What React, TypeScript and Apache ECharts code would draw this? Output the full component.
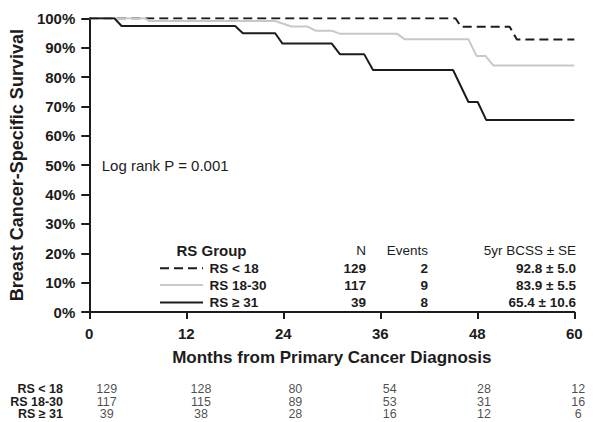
import React, { useEffect, useRef } from "react";
import * as echarts from "echarts";

const groups = ["RS < 18", "RS 18-30", "RS ≥ 31"];
const groupN = [129, 117, 39];
const groupEvents = [2, 9, 8];
const groupBcss = ["92.8 ± 5.0", "83.9 ± 5.5", "65.4 ± 10.6"];

const curveLow: [number, number][] = [
  [0, 100], [45.3, 100], [46.0, 97.1], [52.0, 97.1], [52.9, 92.8], [60, 92.8],
];
const curveMid: [number, number][] = [
  [0, 100], [6.9, 100], [7.4, 99.1], [23.0, 99.1], [25.0, 97.2], [27.0, 97.2],
  [28.0, 95.8], [30.0, 95.8], [31.0, 94.7], [38.1, 94.7], [39.0, 92.9],
  [46.9, 92.9], [47.9, 87.2], [49.0, 87.2], [50.0, 83.9], [60, 83.9],
];
const curveHigh: [number, number][] = [
  [0, 100], [3.1, 100], [4.0, 97.4], [18.05, 97.4], [19.0, 94.9], [23.0, 94.9],
  [23.9, 91.4], [30.0, 91.4], [31.0, 87.8], [34.0, 87.8], [35.1, 82.4],
  [45.0, 82.4], [46.9, 71.5], [48.05, 71.5], [49.1, 65.4], [60, 65.4],
];

const riskMonths = [0, 12, 24, 36, 48, 60];
const riskLow = [129, 128, 80, 54, 28, 12];
const riskMid = [117, 115, 89, 53, 31, 16];
const riskHigh = [39, 38, 28, 16, 12, 6];

const FONT = "'Liberation Sans', Arial, Helvetica, sans-serif";
const DARK = "#1c1c1c";
const GRAY = "#c8c8c8";

export default function App() {
  const ref = useRef<HTMLDivElement>(null);
  useEffect(() => {
    document.body.style.margin = "0";
    if (!ref.current) return;
    const chart = echarts.init(ref.current, null, { renderer: "svg" });

    const riskRows = [riskLow, riskMid, riskHigh];
    const riskData: any[] = [];
    riskRows.forEach((row, ri) => {
      row.forEach((v, i) => riskData.push([riskMonths[i], groups[ri], v]));
    });

    const lineStyles = [
      { stroke: DARK, lineWidth: 2, lineDash: [9, 5] },
      { stroke: GRAY, lineWidth: 2 },
      { stroke: DARK, lineWidth: 2 },
    ];

    const tableTexts: any[] = [];
    const rowY = [268.3, 285, 302.4];
    tableTexts.push({
      type: "text", x: 176.5, y: 250, style: { text: "RS Group", font: `bold 15px ${FONT}`, fill: DARK, textVerticalAlign: "middle" },
    });
    groups.forEach((g, i) => {
      tableTexts.push({
        type: "line", shape: { x1: 160, y1: rowY[i], x2: 203, y2: rowY[i] }, style: lineStyles[i],
      });
      tableTexts.push({
        type: "text", x: 209.5, y: rowY[i],
        style: { text: g, font: `bold 13.5px ${FONT}`, fill: DARK, textVerticalAlign: "middle" },
      });
    });
    const headers = [
      { t: "N", x: 366 },
      { t: "Events", x: 428 },
      { t: "5yr BCSS ± SE", x: 576 },
    ];
    headers.forEach((h) =>
      tableTexts.push({
        type: "text", x: h.x, y: 250,
        style: { text: h.t, font: `13.5px ${FONT}`, fill: DARK, textAlign: "right", textVerticalAlign: "middle" },
      })
    );
    groups.forEach((g, i) => {
      const vals = [String(groupN[i]), String(groupEvents[i]), groupBcss[i]];
      vals.forEach((v, j) =>
        tableTexts.push({
          type: "text", x: headers[j].x, y: rowY[i],
          style: { text: v, font: `bold 13.5px ${FONT}`, fill: DARK, textAlign: "right", textVerticalAlign: "middle" },
        })
      );
    });
    tableTexts.push({
      type: "text", x: 101.7, y: 165,
      style: { text: "Log rank P = 0.001", font: `15px ${FONT}`, fill: DARK, textVerticalAlign: "middle" },
    });

    const lineBase = { type: "line", showSymbol: false, symbol: "none", xAxisIndex: 0, yAxisIndex: 0 };

    chart.setOption({
      animation: false,
      textStyle: { fontFamily: FONT },
      grid: [
        { left: 86.5, right: 24.7, top: 18.3, bottom: 110 },
        { left: 106.7, right: 20.7, top: 383, height: 37.5 },
      ],
      xAxis: [
        {
          type: "value", gridIndex: 0, min: 0, max: 60, interval: 12,
          name: "Months from Primary Cancer Diagnosis", nameLocation: "middle", nameGap: 37,
          nameTextStyle: { fontSize: 17, fontWeight: "bold", color: DARK },
          axisLine: { show: true, lineStyle: { color: DARK, width: 2 } },
          axisTick: { show: true, length: 7, lineStyle: { color: DARK, width: 2 } },
          axisLabel: { fontSize: 15, fontWeight: "bold", color: DARK, margin: 14 },
          splitLine: { show: false },
        },
        {
          type: "value", gridIndex: 1, min: 0, max: 60, show: false,
        },
      ],
      yAxis: [
        {
          type: "value", gridIndex: 0, min: 0, max: 100, interval: 10,
          name: "Breast Cancer-Specific Survival", nameLocation: "middle", nameGap: 48,
          nameTextStyle: { fontSize: 18, fontWeight: "bold", color: DARK },
          axisLine: { show: true, lineStyle: { color: DARK, width: 2 } },
          axisTick: { show: true, length: 8, lineStyle: { color: DARK, width: 2 } },
          axisLabel: { fontSize: 15, fontWeight: "bold", color: DARK, margin: 14, formatter: "{value}%" },
          splitLine: { show: false },
        },
        {
          type: "category", gridIndex: 1, data: groups, inverse: true,
          axisLine: { show: false }, axisTick: { show: false }, splitLine: { show: false },
          axisLabel: { interval: 0, fontSize: 12.5, lineHeight: 12.5, fontWeight: "bold", color: DARK, margin: 43.7, align: "right" },
        },
      ],
      graphic: tableTexts,
      series: [
        { ...lineBase, name: groups[0], data: curveLow, lineStyle: { color: DARK, width: 2, type: [9, 5] }, itemStyle: { color: DARK } },
        { ...lineBase, name: groups[1], data: curveMid, lineStyle: { color: GRAY, width: 2 }, itemStyle: { color: GRAY } },
        { ...lineBase, name: groups[2], data: curveHigh, lineStyle: { color: DARK, width: 2 }, itemStyle: { color: DARK } },
        {
          type: "scatter", xAxisIndex: 1, yAxisIndex: 1, data: riskData, symbolSize: 1,
          itemStyle: { color: "transparent" },
          label: { show: true, position: "inside", formatter: (p: any) => String(p.value[2]), fontSize: 12.5, lineHeight: 12.5, color: DARK },
          silent: true,
        },
      ],
    });
    return () => chart.dispose();
  }, []);
  return <div ref={ref} style={{ width: 599, height: 422 }} />;
}
